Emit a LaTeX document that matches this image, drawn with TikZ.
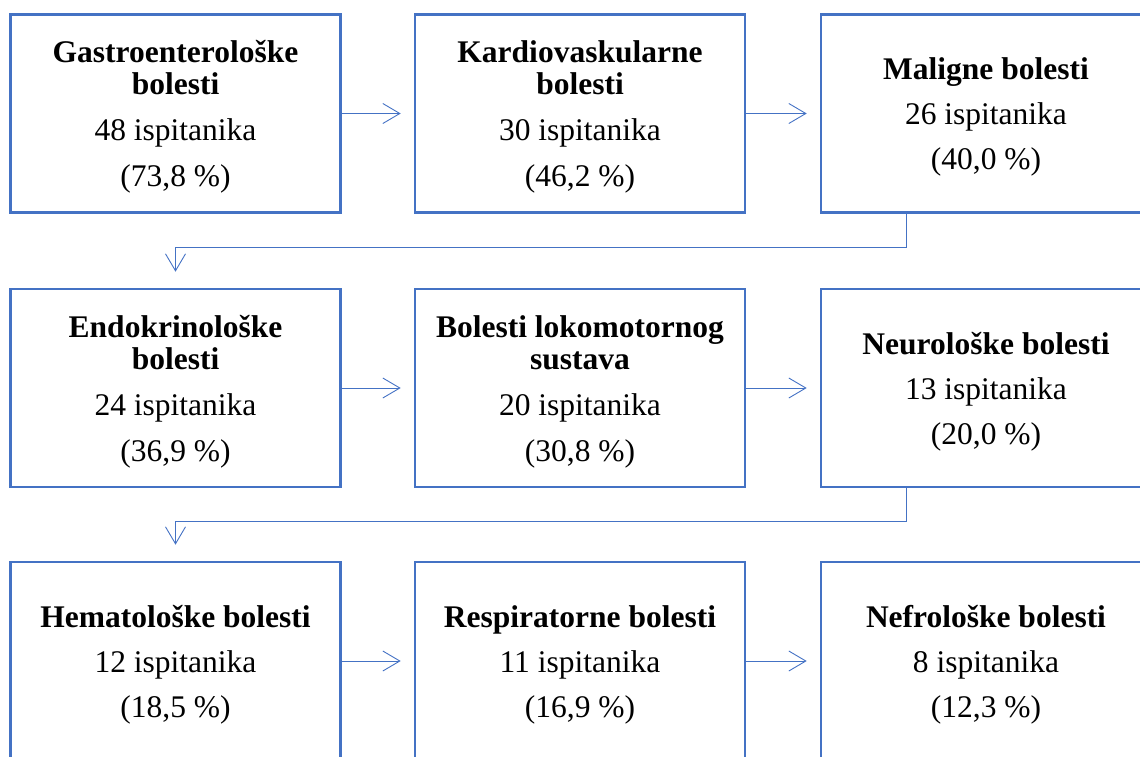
\documentclass[tikz,border=0pt]{standalone}
\usepackage{fontspec}
\setmainfont{Liberation Serif}
\usetikzlibrary{arrows.meta}
\definecolor{wblue}{HTML}{4472C4}
\begin{document}
\begin{tikzpicture}[x=1pt,y=-1pt,
  box/.style={draw=wblue,line width=2.6pt,minimum width=330pt,minimum height=198pt,inner sep=0pt},
  txt/.style={inner sep=0pt,align=center,yshift=-3.5pt,font=\fontsize{31.5}{32}\selectfont},
  conn/.style={draw=wblue,line width=0.9pt,-{Straight Barb[length=17pt,width=20pt,line width=0.9pt]}},
  harr/.style={conn,shorten >=13pt},
  varr/.style={conn,shorten >=16pt}]
\useasboundingbox (0,0) rectangle (1140,756);
\clip (0,0) rectangle (1140,756);
\node[box] (n1) at (175.5,113.5) {};
\node[box] (n2) at (580,113.5) {};
\node[box] (n3) at (986,113.5) {};
\node[box] (n4) at (175.5,388) {};
\node[box] (n5) at (580,388) {};
\node[box] (n6) at (986,388) {};
\node[box] (n7) at (175.5,661) {};
\node[box] (n8) at (580,661) {};
\node[box] (n9) at (986,661) {};
\node[txt] (t1) at (n1.center) {\textbf{Gastroenterološke}\\\textbf{bolesti}\\[14pt]48 ispitanika\\[14pt](73,8 \%)};
\node[txt] (t2) at (n2.center) {\textbf{Kardiovaskularne}\\\textbf{bolesti}\\[14pt]30 ispitanika\\[14pt](46,2 \%)};
\node[txt] (t3) at (n3.center) {\textbf{Maligne bolesti}\\[13pt]26 ispitanika\\[13pt](40,0 \%)};
\node[txt] (t4) at (n4.center) {\textbf{Endokrinološke}\\\textbf{bolesti}\\[14pt]24 ispitanika\\[14pt](36,9 \%)};
\node[txt] (t5) at (n5.center) {\textbf{Bolesti lokomotornog}\\\textbf{sustava}\\[14pt]20 ispitanika\\[14pt](30,8 \%)};
\node[txt] (t6) at (n6.center) {\textbf{Neurološke bolesti}\\[13pt]13 ispitanika\\[13pt](20,0 \%)};
\node[txt] (t7) at (n7.center) {\textbf{Hematološke bolesti}\\[13pt]12 ispitanika\\[13pt](18,5 \%)};
\node[txt] (t8) at (n8.center) {\textbf{Respiratorne bolesti}\\[13pt]11 ispitanika\\[13pt](16,9 \%)};
\node[txt] (t9) at (n9.center) {\textbf{Nefrološke bolesti}\\[13pt]8 ispitanika\\[13pt](12,3 \%)};
\coordinate (c1) at (906,247);
\coordinate (c2) at (906,521);
\draw[harr] (n1.east) -- (n2.west);
\draw[harr] (n2.east) -- (n3.west);
\draw[harr] (n4.east) -- (n5.west);
\draw[harr] (n5.east) -- (n6.west);
\draw[harr] (n7.east) -- (n8.west);
\draw[harr] (n8.east) -- (n9.west);
\draw[varr] (n3.south -| c1) -- (c1) -| (n4.north);
\draw[varr] (n6.south -| c2) -- (c2) -| (n7.north);
\end{tikzpicture}
\end{document}
